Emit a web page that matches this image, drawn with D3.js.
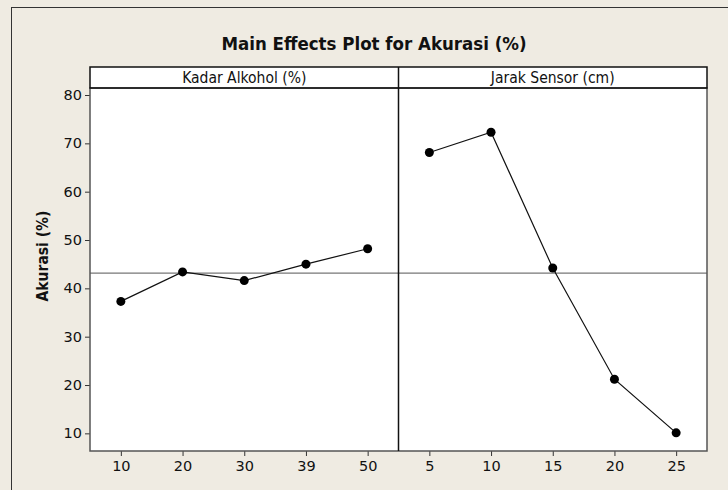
<!doctype html>
<html lang="en">
<head>
<meta charset="utf-8">
<title>Main Effects Plot for Akurasi (%)</title>
<style>
  body { margin: 0; background: #efebe2; }
  svg { display: block; }
  text { font-family: "DejaVu Sans Condensed", "DejaVu Sans", sans-serif; fill: #111; }
  .tick text { font-family: "DejaVu Sans", sans-serif; }
</style>
</head>
<body>
<svg id="chart" width="728" height="490"></svg>
<script src="https://d3js.org/d3.v7.min.js"></script>
<script>
// factor levels and the mean response at each level
const kadarLevels = ["10", "20", "30", "39", "50"];
const kadarMeans = [37.3, 43.4, 41.6, 45.0, 48.2];
const jarakLevels = ["5", "10", "15", "20", "25"];
const jarakMeans = [68.1, 72.3, 44.2, 21.2, 10.1];
const yTicks = [10, 20, 30, 40, 50, 60, 70, 80];

const panels = [
  { name: "Kadar Alkohol (%)", levels: kadarLevels, means: kadarMeans },
  { name: "Jarak Sensor (cm)", levels: jarakLevels, means: jarakMeans },
];

const svg = d3.select("#chart");
const plotLeft = 90, plotRight = 707, stripTop = 67, plotTop = 88, plotBottom = 451;
const panelW = (plotRight - plotLeft) / panels.length;

// outer frame (runs off the right and bottom edges like the source)
svg.append("rect")
  .attr("x", 11.5).attr("y", 7.5).attr("width", 740).attr("height", 500)
  .attr("fill", "#efebe2").attr("stroke", "#333").attr("stroke-width", 1);

svg.append("text")
  .attr("x", 374).attr("y", 50)
  .attr("text-anchor", "middle")
  .style("font-size", "18.5px").style("font-weight", "bold")
  .text("Main Effects Plot for Akurasi (%)");

const y = d3.scaleLinear().domain([6.35, 81.45]).range([plotBottom, plotTop]);

// grand mean = reference line
const grandMean = d3.mean(kadarMeans.concat(jarakMeans));

svg.append("rect")
  .attr("x", plotLeft).attr("y", plotTop).attr("width", plotRight - plotLeft).attr("height", plotBottom - plotTop)
  .attr("fill", "#fff");
svg.append("rect")
  .attr("x", plotLeft).attr("y", stripTop).attr("width", plotRight - plotLeft).attr("height", plotTop - stripTop)
  .attr("fill", "#fff");

svg.append("g")
  .attr("transform", `translate(${plotLeft},0)`)
  .call(d3.axisLeft(y).tickValues(yTicks).tickSize(5).tickPadding(3).tickSizeOuter(0))
  .call(g => g.select(".domain").remove())
  .call(g => g.selectAll("line").attr("stroke", "#333"))
  .call(g => g.selectAll("text").style("font-size", "14.5px").attr("font-family", null));

panels.forEach((p, i) => {
  const x0 = plotLeft + i * panelW, x1 = x0 + panelW;
  const x = d3.scalePoint().domain(p.levels).range([x0, x1]).padding(0.5);

  svg.append("text")
    .attr("x", (x0 + x1) / 2).attr("y", (stripTop + plotTop) / 2 + 5.5)
    .attr("text-anchor", "middle")
    .style("font-size", "15.5px")
    .text(p.name);

  svg.append("g")
    .attr("transform", `translate(0,${plotBottom})`)
    .call(d3.axisBottom(x).tickSize(5).tickPadding(5).tickSizeOuter(0))
    .call(g => g.select(".domain").remove())
    .call(g => g.selectAll("line").attr("stroke", "#333"))
    .call(g => g.selectAll("text").style("font-size", "14.5px").attr("font-family", null));

  svg.append("line")
    .attr("x1", x0).attr("x2", x1)
    .attr("y1", y(grandMean)).attr("y2", y(grandMean))
    .attr("stroke", "#777").attr("stroke-width", 1.3);

  const pts = p.levels.map((l, j) => [x(l), y(p.means[j])]);
  svg.append("path")
    .attr("d", d3.line()(pts))
    .attr("fill", "none").attr("stroke", "#111").attr("stroke-width", 1.2);

  svg.append("g").selectAll("circle")
    .data(pts).join("circle")
    .attr("cx", d => d[0]).attr("cy", d => d[1]).attr("r", 4.5)
    .attr("fill", "#000");
});

// panel borders
svg.append("rect")
  .attr("x", plotLeft).attr("y", plotTop).attr("width", plotRight - plotLeft).attr("height", plotBottom - plotTop)
  .attr("fill", "none").attr("stroke", "#555").attr("stroke-width", 1.5);
svg.append("rect")
  .attr("x", plotLeft).attr("y", stripTop).attr("width", plotRight - plotLeft).attr("height", plotTop - stripTop)
  .attr("fill", "none").attr("stroke", "#111").attr("stroke-width", 1.5);
svg.append("line")
  .attr("x1", plotLeft + panelW).attr("x2", plotLeft + panelW)
  .attr("y1", stripTop).attr("y2", plotBottom)
  .attr("stroke", "#111").attr("stroke-width", 1.5);

svg.append("text")
  .attr("transform", `translate(48,${(stripTop + plotBottom) / 2 - 3}) rotate(-90)`)
  .attr("text-anchor", "middle")
  .style("font-size", "15.5px").style("font-weight", "bold")
  .text("Akurasi (%)");
</script>
</body>
</html>
